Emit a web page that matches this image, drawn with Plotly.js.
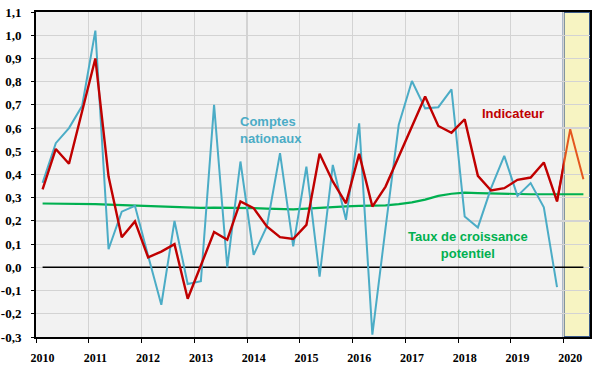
<!DOCTYPE html>
<html><head><meta charset="utf-8">
<script src="https://cdn.plot.ly/plotly-3.0.1.min.js"></script>
<style>html,body{margin:0;padding:0;background:#fff}#chart{width:600px;height:371px}</style>
</head><body><div id="chart"></div>
<script>
// Years and quarterly categories (2010T1 .. 2020T2)
const years = [2010, 2011, 2012, 2013, 2014, 2015, 2016, 2017, 2018, 2019, 2020];
const yearLabels = ["2010", "2011", "2012", "2013", "2014", "2015", "2016", "2017", "2018", "2019", "2020"];
const quarterNames = ["T1", "T2", "T3", "T4"];

// Comptes nationaux (2010T1 .. 2019T4)
const comptesNationaux = [
  0.364, 0.535, 0.600, 0.696,
  1.020, 0.078, 0.240, 0.265,
  0.050, -0.161, 0.200, -0.072,
  -0.060, 0.700, 0.000, 0.456,
  0.054, 0.176, 0.492, 0.090,
  0.434, -0.040, 0.441, 0.205,
  0.620, -0.290, 0.170, 0.614,
  0.803, 0.685, 0.690, 0.767,
  0.219, 0.172, 0.341, 0.480,
  0.308, 0.363, 0.259, -0.085
];

// Indicateur (2010T1 .. 2020T2, the last two being the forecast)
const indicateur = [
  0.336, 0.510, 0.446, 0.670,
  0.900, 0.391, 0.130, 0.198,
  0.043, 0.068, 0.100, -0.135,
  0.010, 0.152, 0.119, 0.284,
  0.255, 0.176, 0.130, 0.122,
  0.183, 0.489, 0.370, 0.276,
  0.489, 0.262, 0.348, 0.480,
  0.610, 0.736, 0.609, 0.580,
  0.638, 0.394, 0.331, 0.341,
  0.377, 0.387, 0.452, 0.284,
  0.595, 0.380
];

// Taux de croissance potentiel (2010T1 .. 2020T2)
const tauxPotentiel = [
  0.275, 0.275, 0.275, 0.275,
  0.272, 0.270, 0.268, 0.266,
  0.264, 0.262, 0.259, 0.256,
  0.256, 0.257, 0.257, 0.256,
  0.255, 0.253, 0.251, 0.250,
  0.253, 0.257, 0.261, 0.263,
  0.265, 0.265, 0.267, 0.272,
  0.280, 0.292, 0.308, 0.317,
  0.322, 0.320, 0.318, 0.317,
  0.316, 0.315, 0.315, 0.315,
  0.315, 0.315
];

const yTickVals = [-0.3, -0.2, -0.1, 0, 0.1, 0.2, 0.3, 0.4, 0.5, 0.6, 0.7, 0.8, 0.9, 1.0, 1.1];
const yTickText = ["-0,3", "-0,2", "-0,1", "0,0", "0,1", "0,2", "0,3", "0,4", "0,5", "0,6", "0,7", "0,8", "0,9", "1,0", "1,1"];

// quarter categories -> position on a continuous time axis (centre of each quarter)
const quarters = [];
years.forEach(y => quarterNames.forEach((q, i) => quarters.push({label: y + q, pos: y + (i + 0.5) / 4})));
const qAll = quarters.slice(0, tauxPotentiel.length);
const xAll = qAll.map(q => q.pos);
const xCN = quarters.slice(0, comptesNationaux.length).map(q => q.pos);
const firstForecast = comptesNationaux.length - 1;
const xForecast = quarters.slice(firstForecast, indicateur.length).map(q => q.pos);
const yForecast = indicateur.slice(firstForecast);
const zeroLine = xAll.map(() => 0);
const yearTickPos = years.map(y => y + 0.125);

const serif = {family: "Liberation Serif, 'Times New Roman', serif", size: 13, color: '#000', weight: 'bold'};
const sans = "Liberation Sans, Arial, sans-serif";

const traces = [
  {x: xAll, y: zeroLine, type: 'scatter', mode: 'lines', line: {color: '#000', width: 1.5}, hoverinfo: 'skip'},
  {x: xAll, y: tauxPotentiel, type: 'scatter', mode: 'lines', name: 'Taux de croissance potentiel', line: {color: '#00b050', width: 2.2}},
  {x: xCN, y: comptesNationaux, type: 'scatter', mode: 'lines', name: 'Comptes nationaux', line: {color: '#4bacc6', width: 2}},
  {x: xForecast, y: yForecast, type: 'scatter', mode: 'lines', name: 'Prévision', line: {color: '#e4571e', width: 2}},
  {x: xAll, y: indicateur, type: 'scatter', mode: 'lines', name: 'Indicateur', xaxis: 'x2', yaxis: 'y2', line: {color: '#c00000', width: 2.4}}
];

const layout = {
  width: 600, height: 371,
  margin: {l: 36, r: 10, t: 12, b: 34},
  paper_bgcolor: '#ffffff',
  plot_bgcolor: 'rgba(0,0,0,0)',
  showlegend: false,
  xaxis: {
    range: [2010, 2020.5], tickvals: yearTickPos, ticktext: yearLabels,
    showgrid: false, zeroline: false, showline: true, linecolor: '#000', linewidth: 2, mirror: true,
    ticks: '', tickfont: Object.assign({}, serif, {size: 12}), ticklabelstandoff: 9,
    minor: {tick0: 2010, dtick: 1, showgrid: true, gridcolor: '#d3d3d3', gridwidth: 1.2, ticks: 'outside', ticklen: 4, tickcolor: '#000', tickwidth: 1}
  },
  yaxis: {
    range: [-0.3, 1.1], tickvals: yTickVals, ticktext: yTickText,
    showgrid: true, gridcolor: '#d3d3d3', gridwidth: 1.2, zeroline: false,
    showline: true, linecolor: '#000', linewidth: 2, mirror: true,
    ticks: 'outside', ticklen: 3, tickcolor: '#000', tickfont: serif, ticklabelstandoff: 7
  },
  xaxis2: {domain: [0, 10 / 10.5], range: [2010, 2020], visible: false, anchor: 'y2', fixedrange: true},
  yaxis2: {range: [-0.3, 1.1], visible: false, anchor: 'x2', fixedrange: true},
  shapes: [
    {type: 'rect', xref: 'paper', yref: 'paper', x0: 0, x1: 1, y0: 0, y1: 1,
     fillcolor: '#f2f2f2', line: {width: 0}, layer: 'below'},
    {type: 'rect', xref: 'x', yref: 'paper', x0: 2020, x1: 2020.5, y0: 0, y1: 1,
     fillcolor: '#f7f4c2', line: {color: '#3b5b8a', width: 2}, layer: 'below'}
  ],
  annotations: [
    {x: 2013.83, y: 0.592, xref: 'x', yref: 'y', text: 'Comptes<br>nationaux', showarrow: false,
     xanchor: 'left', yanchor: 'middle', align: 'left',
     font: {family: sans, size: 13, color: '#4bacc6', weight: 'bold'}},
    {x: 2019.04, y: 0.661, xref: 'x', yref: 'y', text: 'Indicateur', showarrow: false,
     xanchor: 'center', yanchor: 'middle',
     font: {family: sans, size: 13, color: '#c00000', weight: 'bold'}},
    {x: 2018.185, y: 0.096, xref: 'x', yref: 'y', text: 'Taux de croissance<br>potentiel', showarrow: false,
     xanchor: 'center', yanchor: 'middle', align: 'center',
     font: {family: sans, size: 13, color: '#00b050', weight: 'bold'}}
  ]
};

Plotly.newPlot('chart', traces, layout, {staticPlot: true, displayModeBar: false});
</script>
</body></html>
